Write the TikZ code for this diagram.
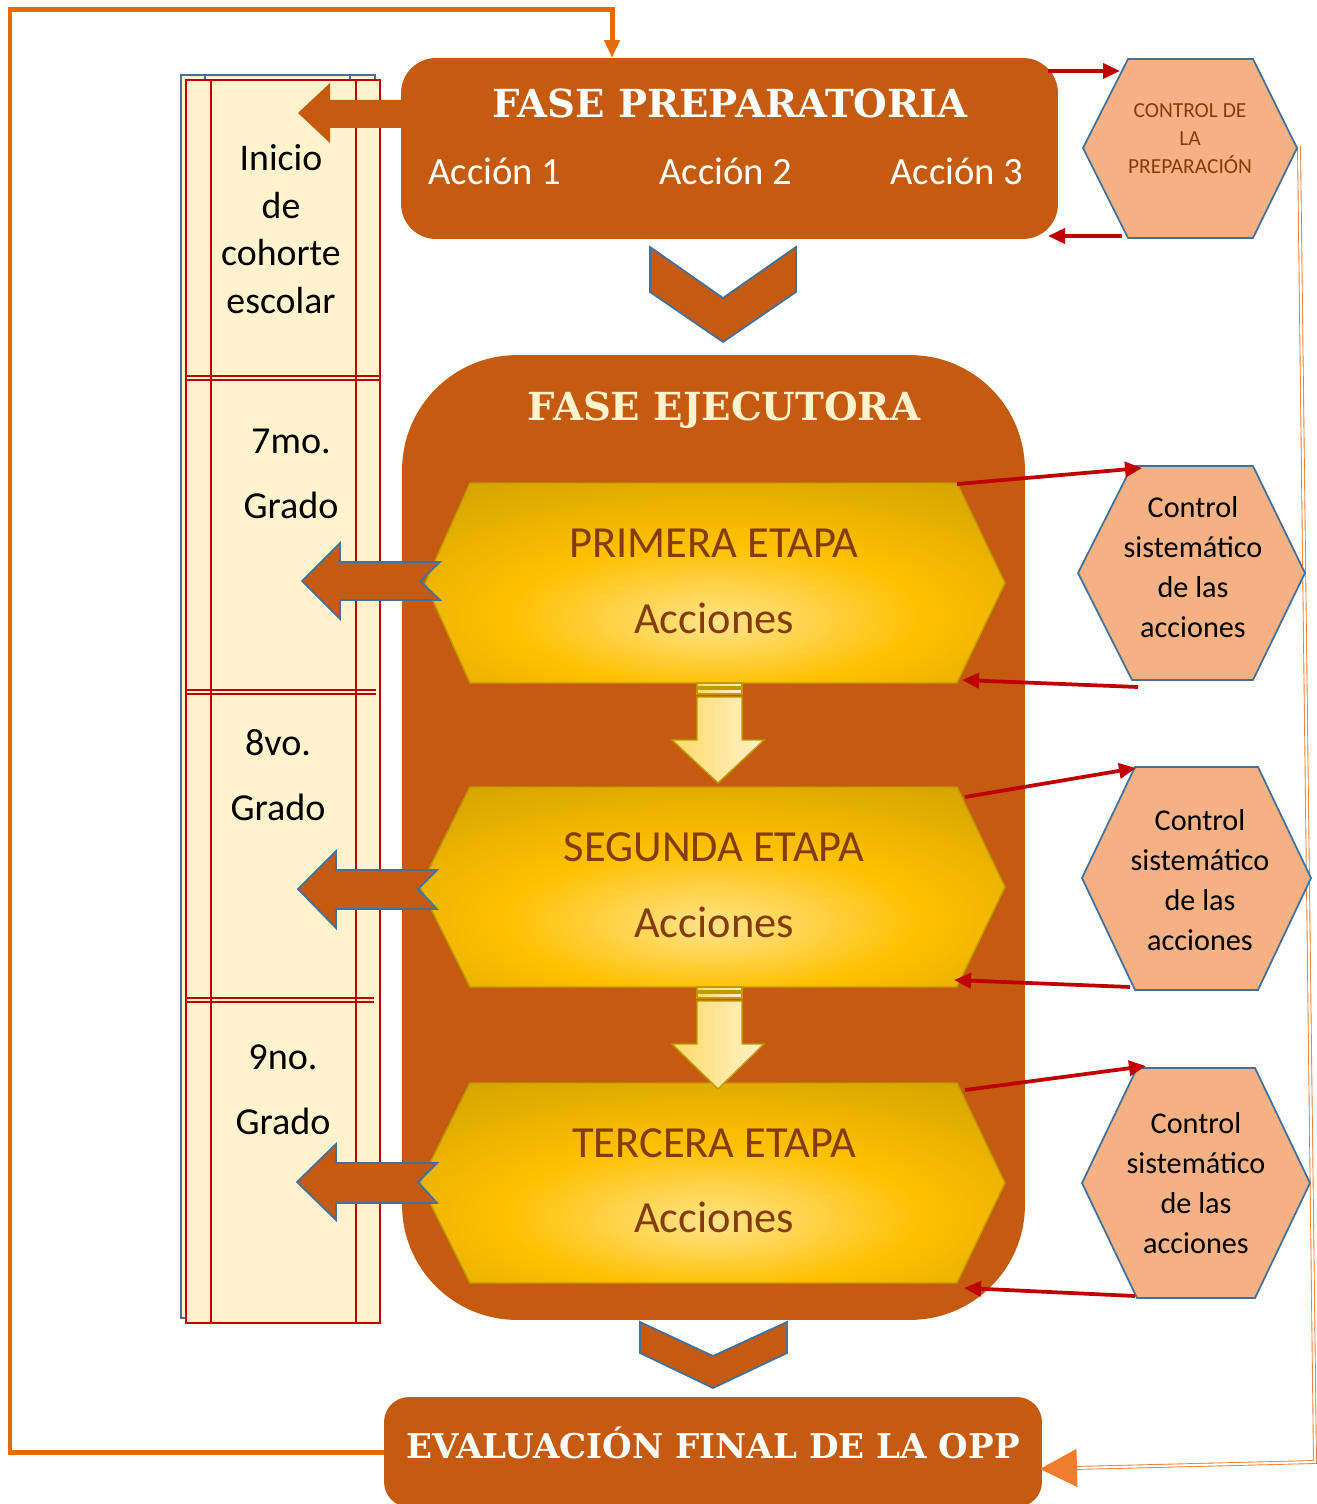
\documentclass[tikz,border=0pt]{standalone}
\usepackage{fontspec}
\setmainfont{Carlito}
\newfontfamily\titulo{DejaVu Serif}
\usetikzlibrary{arrows.meta}

\definecolor{naranja}{HTML}{C55A11}
\definecolor{naranjaclaro}{HTML}{F4B183}
\definecolor{naranjalinea}{HTML}{ED7D31}
\definecolor{naranjalazo}{HTML}{E36C09}
\definecolor{bordeazul}{HTML}{41719C}
\definecolor{crema}{HTML}{FFF2CC}
\definecolor{rojo}{HTML}{C00000}
\definecolor{cafe}{HTML}{843C0C}
\definecolor{oro}{HTML}{FFC000}
\definecolor{oroclaro}{HTML}{FFE38A}
\definecolor{oromedio}{HTML}{D4A400}
\definecolor{oroscuro}{HTML}{9A7800}
\definecolor{oroborde}{HTML}{BF9A00}
\definecolor{flechaclara}{HTML}{FFD966}

\pgfdeclareradialshading{brillo}{\pgfpoint{0bp}{-10bp}}{%
  color(0bp)=(oroclaro); color(18bp)=(oro); color(38bp)=(oromedio);
  color(52bp)=(oroscuro); color(100bp)=(oroscuro)}

\tikzset{
  fase/.style={fill=naranja, rounded corners=0.7cm, inner sep=0pt},
  titulofase/.style={font=\titulo\bfseries\fontsize{22}{26}\selectfont},
  accion/.style={text=white, font=\fontsize{22}{26}\selectfont},
  etapa/.style={shading=brillo, draw=oroborde, line width=0.8pt},
  etapatxt/.style={text=cafe, font=\fontsize{25.3}{30}\selectfont},
  bajada/.style={left color=flechaclara, right color=crema, draw=oroborde, line width=0.8pt},
  bloque/.style={fill=naranja, draw=bordeazul, line width=1pt, line join=miter},
  control/.style={fill=naranjaclaro, draw=bordeazul, line width=1pt},
  controltxt/.style={align=center, font=\fontsize{17.2}{22.7}\selectfont},
  grado/.style={align=center, font=\fontsize{21.7}{37}\selectfont},
  roja/.style={rojo, line width=0.075cm, -{Triangle[length=0.34cm,width=0.3cm]}},
  retorno/.style={naranjalazo, line width=0.1cm, line join=miter, -{Triangle[length=0.36cm,width=0.3cm]}},
  tabla/.style={rojo, line width=1.2pt},
}

\begin{document}
\begin{tikzpicture}[x=0.02cm,y=-0.02cm]
\useasboundingbox (0,0) rectangle (1317,1504);

% tabla de grados
\draw[bordeazul, line width=1pt, fill=crema] (181,75) rectangle (375,1318);
\draw[bordeazul, line width=1pt] (205,75) -- (205,80) (350,75) -- (350,80);
\draw[tabla, fill=crema] (186,80) rectangle (380,1323);
\draw[tabla] (211,80) -- (211,1323) (356,80) -- (356,1323);
\draw[tabla] (186,376) -- (380,376) (186,380) -- (380,380);
\draw[tabla] (186,690) -- (376,690) (186,694) -- (376,694);
\draw[tabla] (186,998) -- (374,998) (186,1002) -- (374,1002);

\node[align=center, font=\fontsize{21.5}{27}\selectfont] (inicio) at (281,229) {Inicio\\de\\cohorte\\escolar};
\node[grado] (g7) at (291,474) {7mo.\\Grado};
\node[grado] (g8) at (278,775) {8vo.\\Grado};
\node[grado] (g9) at (283,1090) {9no.\\Grado};

% fases
\node[fase, minimum width=13.14cm, minimum height=3.62cm] (prep) at (729.5,148.5) {};
\node[fase, rounded corners=2.3cm, minimum width=12.46cm, minimum height=19.3cm] (ejec) at (713.5,837.5) {};
\node[fase, rounded corners=0.5cm, minimum width=13.16cm, minimum height=2.2cm] (eval) at (713,1452) {};

\node[titulofase, text=white] (tprep) at (730,103) {FASE PREPARATORIA};
\node[accion] (acc1) at (495,171) {Acción 1};
\node[accion] (acc2) at (726,171) {Acción 2};
\node[accion] (acc3) at (957,171) {Acción 3};
\node[titulofase, text=crema] (tejec) at (724,410) {FASE EJECUTORA};
\node[titulofase, text=white, font=\titulo\bfseries\fontsize{19.4}{23}\selectfont] (teval) at (713,1443) {EVALUACIÓN FINAL DE LA OPP};

% lazo de retorno
\coordinate (entrada) at (612,58);
\draw[retorno] (eval.west) -| (10,10) -| (entrada);

% linea doble de control
\coordinate (cprepE) at (1299,146);
\coordinate (evalE) at (1040,1469);
\draw[naranjalinea, line width=0.5pt, double=white, double distance=1.2pt] (cprepE) -- (1315,1462) -- (1074,1468);
\draw[naranjalinea, line width=0.6pt, -{Triangle[length=0.74cm,width=0.76cm]}] (1076,1468) -- (evalE);

% chevrones
\draw[bloque] (650,247) -- (723,298) -- (796,247) -- (796,292) -- (723,342) -- (650,292) -- cycle;
\draw[bloque] (640,1322) -- (713,1356) -- (787,1322) -- (787,1353) -- (713,1388) -- (640,1353) -- cycle;

% etapas
\draw[etapa] (425,583) -- (470,483) -- (957,483) -- (1005,583) -- (957,683) -- (470,683) -- cycle;
\draw[etapa] (420,887) -- (470,787) -- (957,787) -- (1005,887) -- (957,987) -- (470,987) -- cycle;
\draw[etapa] (420,1183) -- (470,1083) -- (957,1083) -- (1005,1183) -- (957,1283) -- (470,1283) -- cycle;
\node[etapatxt] (e1) at (714,543) {PRIMERA ETAPA};
\node[etapatxt] (a1) at (714,618) {Acciones};
\node[etapatxt] (e2) at (714,847) {SEGUNDA ETAPA};
\node[etapatxt] (a2) at (714,922) {Acciones};
\node[etapatxt] (e3) at (714,1143) {TERCERA ETAPA};
\node[etapatxt] (a3) at (714,1217) {Acciones};

% flechas entre etapas
\draw[bajada] (697,683) rectangle (742,687);
\draw[bajada] (697,689) rectangle (742,694);
\draw[bajada] (697,697) -- (742,697) -- (742,740) -- (764,740) -- (718,783) -- (672,740) -- (697,740) -- cycle;
\draw[bajada] (697,987) rectangle (742,991);
\draw[bajada] (697,993) rectangle (742,998);
\draw[bajada] (697,1001) -- (742,1001) -- (742,1044) -- (764,1044) -- (718,1089) -- (672,1044) -- (697,1044) -- cycle;

% flechas hacia los grados
\fill[naranja] (402,100) -- (330,100) -- (330,83) -- (298,113) -- (330,143) -- (330,128) -- (402,128) -- cycle;
\draw[bloque] (440,562) -- (340,562) -- (340,543) -- (302,581) -- (340,619) -- (340,600) -- (440,600) -- (420,581) -- cycle;
\draw[bloque] (437,870) -- (336,870) -- (336,851) -- (298,889) -- (336,928) -- (336,909) -- (437,909) -- (418,889) -- cycle;
\draw[bloque] (437,1163) -- (336,1163) -- (336,1144) -- (297,1182) -- (336,1220) -- (336,1203) -- (437,1203) -- (418,1182) -- cycle;

% controles
\draw[control] (1083,148) -- (1128,59) -- (1253,59) -- (1297,148) -- (1253,238) -- (1128,238) -- cycle;
\draw[control] (1078,573) -- (1132,466) -- (1253,466) -- (1305,573) -- (1253,680) -- (1132,680) -- cycle;
\draw[control] (1082,878) -- (1135,767) -- (1258,767) -- (1311,878) -- (1258,990) -- (1135,990) -- cycle;
\draw[control] (1082,1183) -- (1137,1068) -- (1255,1068) -- (1310,1183) -- (1255,1298) -- (1137,1298) -- cycle;
\node[align=center, text=cafe, font=\fontsize{12.2}{16}\selectfont] (cprep) at (1190,139) {CONTROL DE\\LA\\PREPARACIÓN};
\node[controltxt] (c1) at (1193,567) {Control\\sistemático\\de las\\acciones};
\node[controltxt] (c2) at (1200,880) {Control\\sistemático\\de las\\acciones};
\node[controltxt] (c3) at (1196,1183) {Control\\sistemático\\de las\\acciones};

% flechas de control
\coordinate (p1) at (1048,71);   \coordinate (q1) at (1120,71);
\coordinate (p2) at (1122,236);  \coordinate (q2) at (1048,236);
\draw[roja] (p1) -- (q1);
\draw[roja] (p2) -- (q2);
\coordinate (e1a) at (957,484);  \coordinate (c1a) at (1142,468);
\coordinate (c1b) at (1138,687); \coordinate (e1b) at (962,680);
\draw[roja] (e1a) -- (c1a);
\draw[roja] (c1b) -- (e1b);
\coordinate (e2a) at (965,797);  \coordinate (c2a) at (1136,768);
\coordinate (c2b) at (1130,987); \coordinate (e2b) at (954,980);
\draw[roja] (e2a) -- (c2a);
\draw[roja] (c2b) -- (e2b);
\coordinate (e3a) at (965,1090); \coordinate (c3a) at (1146,1066);
\coordinate (c3b) at (1135,1296); \coordinate (e3b) at (964,1288);
\draw[roja] (e3a) -- (c3a);
\draw[roja] (c3b) -- (e3b);
\end{tikzpicture}
\end{document}
